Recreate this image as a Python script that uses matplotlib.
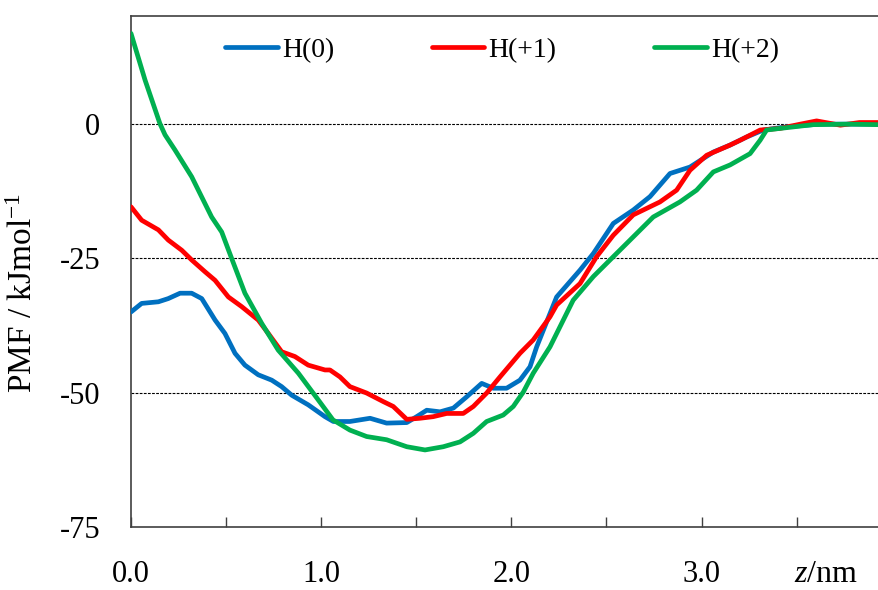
import matplotlib
matplotlib.use("Agg")
import matplotlib.pyplot as plt
from matplotlib.ticker import FixedLocator

plt.rcParams['font.family'] = ['Liberation Serif', 'DejaVu Serif']
plt.rcParams['mathtext.fontset'] = 'custom'
plt.rcParams['mathtext.rm'] = 'Liberation Serif'
plt.rcParams['mathtext.it'] = 'Liberation Serif:italic'
plt.rcParams['mathtext.bf'] = 'Liberation Serif:bold'

# H(0)
z_h0 = [0.0, 0.056, 0.144, 0.196, 0.258, 0.319, 0.372, 0.442, 0.494, 0.547, 0.599, 0.669,
        0.740, 0.792, 0.845, 0.932, 1.020, 1.064, 1.151, 1.257, 1.344, 1.450, 1.502, 1.555,
        1.625, 1.695, 1.765, 1.844, 1.905, 1.975, 2.045, 2.098, 2.133, 2.203, 2.238, 2.361,
        2.431, 2.536, 2.641, 2.729, 2.834, 2.939, 3.062, 3.150, 3.237, 3.324, 3.447, 3.62, 3.93]
pmf_h0 = [-35.0, -33.4, -33.1, -32.5, -31.5, -31.5, -32.5, -36.5, -39.0, -42.7, -44.9, -46.7,
          -47.7, -48.9, -50.5, -52.3, -54.5, -55.4, -55.4, -54.8, -55.7, -55.6, -54.5, -53.3,
          -53.6, -52.9, -50.8, -48.3, -49.2, -49.2, -47.7, -45.2, -41.5, -35.3, -32.2, -27.2,
          -24.1, -18.5, -16.0, -13.5, -9.2, -8.0, -5.2, -3.9, -2.4, -1.1, -0.5, 0.0, 0.0]

# H(+1)
z_h1 = [0.0, 0.056, 0.144, 0.196, 0.267, 0.319, 0.389, 0.442, 0.512, 0.582, 0.669, 0.722,
        0.792, 0.862, 0.932, 1.020, 1.046, 1.099, 1.151, 1.239, 1.327, 1.379, 1.450, 1.519,
        1.589, 1.660, 1.747, 1.800, 1.870, 1.940, 2.045, 2.115, 2.203, 2.238, 2.361, 2.448,
        2.536, 2.641, 2.781, 2.869, 2.939, 3.027, 3.150, 3.203, 3.308, 3.412, 3.52, 3.605,
        3.73, 3.83, 3.93]
pmf_h1 = [-15.4, -17.9, -19.7, -21.6, -23.5, -25.3, -27.5, -29.1, -32.2, -34.0, -36.5, -39.0,
          -42.4, -43.3, -44.9, -45.8, -45.8, -47.1, -48.9, -50.1, -51.7, -52.6, -55.0, -54.8,
          -54.5, -53.9, -53.9, -52.6, -50.1, -47.1, -42.7, -40.2, -35.9, -33.7, -29.7, -24.7,
          -20.7, -16.9, -14.5, -12.3, -8.6, -5.8, -3.9, -3.0, -1.1, -0.8, 0.0, 0.6,
          -0.2, 0.3, 0.3]

# H(+2)
z_h2 = [0.0, 0.074, 0.152, 0.179, 0.231, 0.319, 0.424, 0.477, 0.529, 0.599, 0.687, 0.774,
        0.880, 0.985, 1.062, 1.151, 1.239, 1.344, 1.450, 1.546, 1.642, 1.730, 1.800, 1.870,
        1.957, 2.010, 2.063, 2.115, 2.203, 2.325, 2.431, 2.536, 2.624, 2.746, 2.886, 2.974,
        3.062, 3.150, 3.255, 3.308, 3.342, 3.412, 3.586, 3.78, 3.93]
pmf_h2 = [16.9, 8.2, 0.1, -2.0, -4.8, -9.8, -17.3, -20.1, -25.0, -31.5, -37.1, -42.1,
          -46.4, -51.4, -55.1, -57.0, -58.2, -58.8, -60.1, -60.7, -60.1, -59.2, -57.6, -55.4,
          -54.2, -52.6, -49.9, -46.4, -41.5, -32.8, -28.4, -24.7, -21.6, -17.3, -14.5, -12.3,
          -8.9, -7.6, -5.5, -3.0, -1.1, -0.8, -0.1, 0.0, -0.1]

labels = ["H(0)", "H(+1)", "H(+2)"]
colors = ["#0070C0", "#FF0000", "#00B050"]

x_major = [0.0, 1.0, 2.0, 3.0]
x_major_labels = ["0.0", "1.0", "2.0", "3.0"]
x_minor = [0.5, 1.5, 2.5, 3.5]
y_ticks = [0, -25, -50, -75]

fig = plt.figure(figsize=(8.79, 5.90), dpi=100)
ax = fig.add_axes([131/879, 1 - 526.7/590, 1 - 131/879, (526.7 - 15.7)/590])

for y in [0, -25, -50]:
    ax.axhline(y, color="black", linewidth=0.8, linestyle=(0, (2.5, 1.2)), zorder=1)

for zz, pp, lab, c in zip([z_h0, z_h1, z_h2], [pmf_h0, pmf_h1, pmf_h2], labels, colors):
    ax.plot(zz, pp, color=c, linewidth=3.4, label=lab, zorder=3, solid_capstyle='round')

ax.set_xlim(0, 3.933)
ax.set_ylim(-75, 20.2)

ax.xaxis.set_major_locator(FixedLocator(x_major))
ax.set_xticklabels(x_major_labels)
ax.xaxis.set_minor_locator(FixedLocator(x_minor))
ax.set_yticks(y_ticks)
ax.set_yticklabels([str(v) for v in y_ticks])

ax.tick_params(axis='x', which='both', direction='in', length=7, width=1.0,
               color='#404040', labelsize=22, pad=24)
ax.tick_params(axis='y', which='both', length=0, labelsize=22, pad=22)

for s in ['left', 'bottom', 'top']:
    ax.spines[s].set_color('#404040')
    ax.spines[s].set_linewidth(1.2)
ax.spines['right'].set_visible(False)

fig.text(24/879, 1 - 293/590, "PMF / kJmol$^{-1}$", rotation=90, fontsize=24,
         ha='center', va='center')
fig.text(826/879, 1 - 574/590, "$\\mathit{z}$/nm", fontsize=23, ha='center', va='center')

leg = ax.legend(loc='center', bbox_to_anchor=(0.496, 0.933), ncol=3, frameon=False,
                fontsize=20, handlelength=1.9, handletextpad=0.15, columnspacing=3.5)

fig.savefig("out.png", dpi=100)
